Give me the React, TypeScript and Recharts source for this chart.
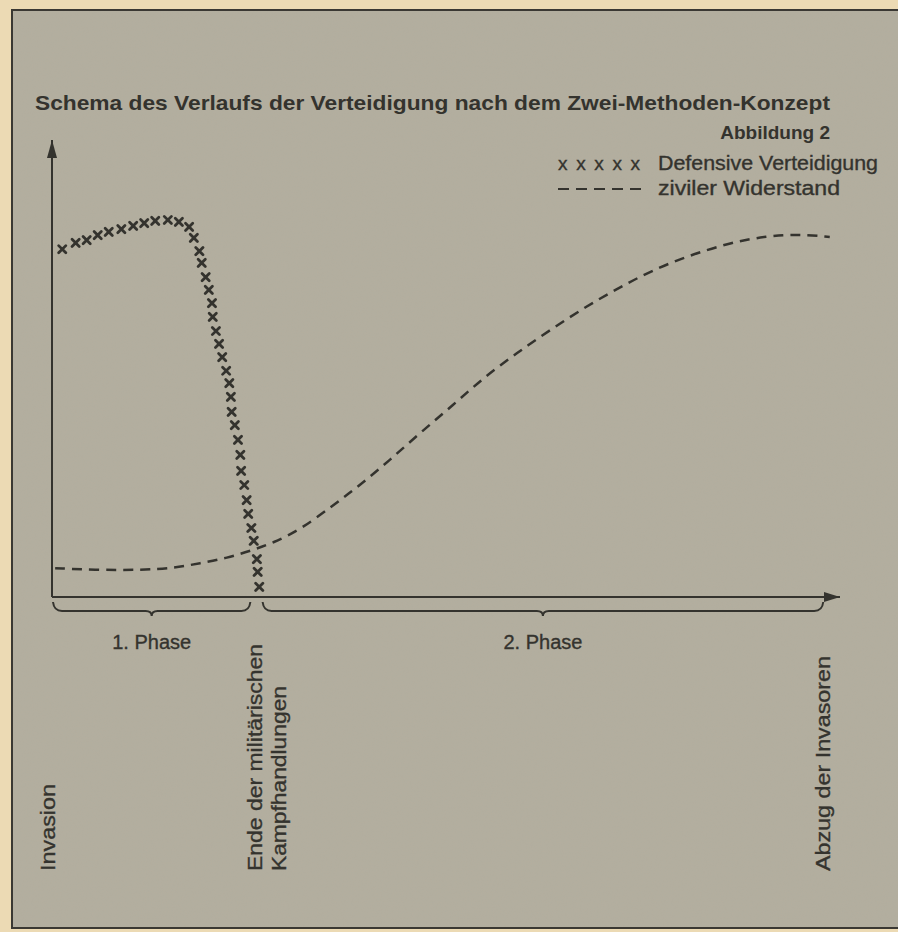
import React from 'react';
import { ComposedChart, Line, Scatter, XAxis, YAxis, ReferenceDot, ReferenceLine } from 'recharts';

// time runs 0..100 from invasion to withdrawal, intensity 0..100
const defensiveT = [
  1.3, 3.0, 4.4, 5.8, 7.2, 8.8, 10.3, 11.7, 13.1, 14.7, 16.1, 17.4, 18.0, 18.7, 19.0, 19.5, 19.9, 20.3, 20.4,
  20.8, 21.2, 21.6, 22.1, 22.5, 22.7, 22.8, 23.2, 23.6, 23.9, 24.0, 24.4, 24.7, 24.9, 25.3, 25.6, 26.0, 26.1, 26.3,
];
const defensiveV = [
  76.1, 77.5, 78.1, 79.2, 79.9, 80.5, 81.2, 81.8, 82.3, 82.5, 82.1, 81.0, 78.6, 75.7, 73.1, 70.0, 67.2, 64.3, 61.3,
  58.2, 55.4, 52.5, 49.5, 46.8, 43.8, 40.5, 37.6, 34.4, 31.1, 27.6, 24.5, 21.2, 18.2, 15.1, 12.3, 8.3, 5.5, 2.2,
];

const zivilT = [
  0.4, 6.1, 11.2, 15.4, 18.8, 22.2, 25.5, 28.0, 31.5, 35.7, 39.1, 42.9, 46.7, 50.9, 54.7, 59.0, 63.2, 67.9, 72.1,
  76.3, 81.0, 86.0, 90.7, 94.9, 98.7,
];
const zivilV = [
  6.3, 5.9, 5.9, 6.3, 7.4, 8.5, 10.3, 11.8, 14.7, 20.1, 24.5, 30.0, 35.9, 42.0, 47.9, 53.4, 58.4, 63.7, 67.8,
  71.6, 74.8, 77.5, 79.0, 79.4, 78.8,
];

const eventTicks = [0, 26.3, 98.1];
const eventLabels = [['Invasion'], ['Ende der militärischen', 'Kampfhandlungen'], ['Abzug der Invasoren']];
const eventLengths = [[87], [227, 185], [215]];
const eventShift = [3, 3, 5];

const phaseStarts = [0, 26.6];
const phaseEnds = [25.3, 98.0];
const phaseLabels = ['1. Phase', '2. Phase'];

const INK = '#34332e';
const FONT = '"Liberation Sans", Arial, Helvetica, sans-serif';
const HEAVY = { stroke: INK, strokeWidth: 0.35 };

const defensiveData = defensiveT.map((t, i) => ({ t, v: defensiveV[i] }));
const zivilData = zivilT.map((t, i) => ({ t, v: zivilV[i] }));

function Cross(props: any) {
  const { cx, cy } = props;
  if (cx == null || cy == null) return null;
  const s = 3.6;
  return (
    <path
      d={`M${cx - s},${cy - s}L${cx + s},${cy + s}M${cx + s},${cy - s}L${cx - s},${cy + s}`}
      stroke={INK}
      strokeWidth={2.8}
      strokeLinecap="round"
    />
  );
}

function EventTick(props: any) {
  const { x, y, index } = props;
  const lines = eventLabels[index] || [];
  const by = y + 266;
  return (
    <g>
      {lines.map((line, j) => {
        const bx = x + eventShift[index] + j * 24;
        return (
          <text
            key={j}
            x={bx}
            y={by}
            transform={`rotate(-90 ${bx} ${by})`}
            fill={INK}
            {...HEAVY}
            fontFamily={FONT}
            fontSize={21}
            textLength={eventLengths[index][j]}
            lengthAdjust="spacingAndGlyphs"
          >
            {line}
          </text>
        );
      })}
    </g>
  );
}

function Brace(props: any) {
  const { x1, x2, y1, text } = props;
  const y = y1 + 14;
  const mid = (x1 + x2) / 2;
  const d =
    `M${x1 + 1},${y1 + 5} Q${x1 + 2},${y} ${x1 + 10},${y} L${mid - 6},${y} Q${mid},${y} ${mid},${y + 5}` +
    ` Q${mid},${y} ${mid + 6},${y} L${x2 - 10},${y} Q${x2 - 2},${y} ${x2 - 1},${y1 + 5}`;
  return (
    <g>
      <path d={d} fill="none" stroke={INK} strokeWidth={2} />
      <text x={mid} y={y1 + 52} textAnchor="middle" fill={INK} {...HEAVY} fontFamily={FONT} fontSize={20}>
        {text}
      </text>
    </g>
  );
}

function ArrowRight(props: any) {
  const { cx, cy } = props;
  return <path d={`M${cx},${cy} L${cx - 16},${cy - 5} L${cx - 16},${cy + 5} Z`} fill={INK} />;
}

function ArrowUp(props: any) {
  const { cx, cy } = props;
  return <path d={`M${cx},${cy} L${cx - 5},${cy + 18} L${cx + 5},${cy + 18} Z`} fill={INK} />;
}

export default function App() {
  return (
    <div style={{ position: 'absolute', left: 0, top: 0, width: 898, height: 932, overflow: 'hidden', background: '#ecdab4' }}>
      <svg width={898} height={932} style={{ position: 'absolute', left: 0, top: 0 }}>
        <defs>
          <filter id="grain" x="0" y="0" width="100%" height="100%">
            <feTurbulence type="fractalNoise" baseFrequency="0.8" numOctaves={2} seed={3} />
            <feColorMatrix type="matrix" values="0 0 0 0 0.35  0 0 0 0 0.42  0 0 0 0 0.42  0 0 0 0.35 0" />
          </filter>
        </defs>
        <rect x={12} y={10} width={900} height={918} fill="#b4ae9e" />
        <rect x={12} y={10} width={900} height={918} filter="url(#grain)" opacity={0.35} />
        <rect x={12} y={10} width={900} height={918} fill="none" stroke="#3a3833" strokeWidth={2} />
      </svg>
      <div style={{ position: 'absolute', left: 0, top: 0 }}>
        <ComposedChart width={898} height={932} margin={{ top: 140, right: 58, left: 12, bottom: 35 }}>
          <XAxis
            type="number"
            dataKey="t"
            domain={[0, 100]}
            ticks={eventTicks}
            interval={0}
            tick={<EventTick />}
            tickLine={false}
            axisLine={{ stroke: INK, strokeWidth: 2 }}
            height={300}
            allowDataOverflow
          />
          <YAxis
            type="number"
            domain={[0, 100]}
            tick={false}
            tickLine={false}
            axisLine={{ stroke: INK, strokeWidth: 2 }}
            width={40}
            allowDataOverflow
          />
          {phaseLabels.map((label, i) => (
            <ReferenceLine
              key={label}
              segment={[
                { x: phaseStarts[i], y: 0 },
                { x: phaseEnds[i], y: 0 },
              ]}
              ifOverflow="visible"
              shape={(p: any) => <Brace {...p} text={label} />}
            />
          ))}
          <ReferenceDot x={100} y={0} ifOverflow="visible" shape={(p: any) => <ArrowRight {...p} />} />
          <ReferenceDot x={0} y={100} ifOverflow="visible" shape={(p: any) => <ArrowUp {...p} />} />
          <Line
            data={zivilData}
            dataKey="v"
            type="basis"
            stroke={INK}
            strokeWidth={2.5}
            strokeDasharray="10 7"
            dot={false}
            isAnimationActive={false}
          />
          <Scatter data={defensiveData} dataKey="v" shape={<Cross />} isAnimationActive={false} />
        </ComposedChart>
      </div>
      <svg width={898} height={932} style={{ position: 'absolute', left: 0, top: 0, pointerEvents: 'none' }}>
        <text
          x={35}
          y={110}
          fill={INK}
          fontFamily={'"Liberation Sans Narrow", ' + FONT}
          fontWeight="bold"
          fontSize={21}
          textLength={795}
          lengthAdjust="spacingAndGlyphs"
        >
          Schema des Verlaufs der Verteidigung nach dem Zwei-Methoden-Konzept
        </text>
        <text x={830} y={139} textAnchor="end" fill={INK} fontFamily={FONT} fontWeight="bold" fontSize={19}>
          Abbildung 2
        </text>
        <text x={558} y={170} fill={INK} {...HEAVY} fontFamily={FONT} fontSize={19} textLength={82} lengthAdjust="spacing">
          x x x x x
        </text>
        <text
          x={658}
          y={170}
          fill={INK}
          {...HEAVY}
          fontFamily={FONT}
          fontSize={20}
          textLength={220}
          lengthAdjust="spacingAndGlyphs"
        >
          Defensive Verteidigung
        </text>
        <line x1={558} y1={189} x2={641} y2={189} stroke={INK} strokeWidth={2} strokeDasharray="11 7" />
        <text
          x={658}
          y={195}
          fill={INK}
          {...HEAVY}
          fontFamily={FONT}
          fontSize={20}
          textLength={182}
          lengthAdjust="spacingAndGlyphs"
        >
          ziviler Widerstand
        </text>
      </svg>
    </div>
  );
}
